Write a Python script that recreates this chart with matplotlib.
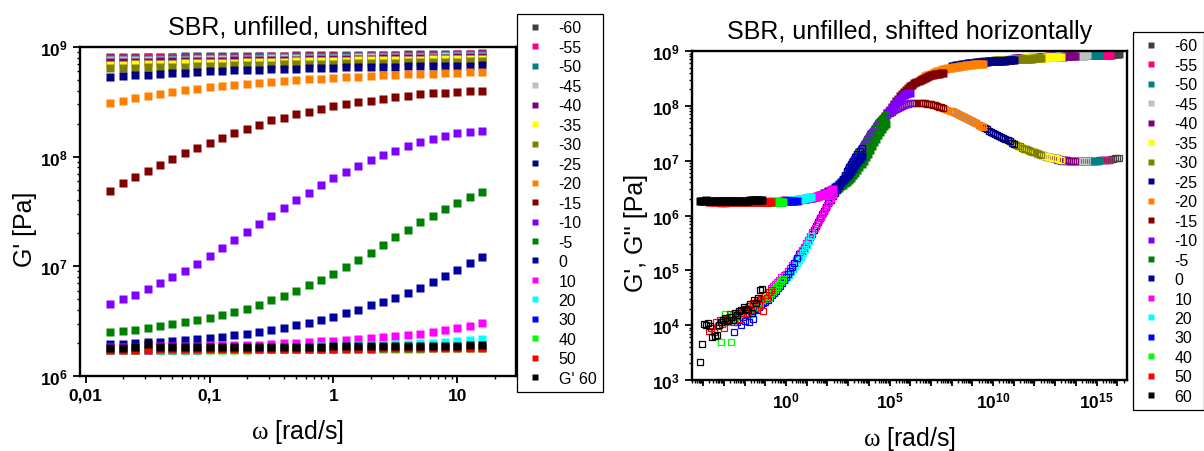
import numpy as np
import matplotlib
matplotlib.use("Agg")
import matplotlib.pyplot as plt
from matplotlib.ticker import FixedLocator, LogLocator, FuncFormatter, NullFormatter

plt.rcParams['font.family'] = ['Liberation Sans', 'DejaVu Sans']
plt.rcParams['mathtext.fontset'] = 'custom'
plt.rcParams['mathtext.rm'] = 'Liberation Serif'
plt.rcParams['mathtext.bf'] = 'Liberation Sans:bold'
plt.rcParams['mathtext.it'] = 'Liberation Sans:italic'
plt.rcParams['mathtext.sf'] = 'Liberation Sans'

# angular frequency of the sweep [rad/s]
omega = [0.0158, 0.02, 0.0251, 0.0316, 0.0398, 0.0501, 0.0631, 0.0794, 0.1, 0.126, 0.158,
         0.2, 0.251, 0.316, 0.398, 0.501, 0.631, 0.794, 1, 1.26, 1.58, 2, 2.51, 3.16,
         3.98, 5.01, 6.31, 7.94, 10, 12.6, 15.8]

temps = ['-60', '-55', '-50', '-45', '-40', '-35', '-30', '-25', '-20', '-15', '-10',
         '-5', '0', '10', '20', '30', '40', '50', '60']
colors = ['#404040', '#ff0080', '#008080', '#c0c0c0', '#800080', '#ffff00', '#808000',
          '#000080', '#ff8000', '#800000', '#8000ff', '#008000', '#0000a0', '#ff00ff',
          '#00ffff', '#0000ff', '#00ff00', '#ff0000', '#000000']
# horizontal shift factors, log10(aT)
log_aT = [14.9, 14.45, 13.93, 13.33, 12.77, 12.06, 11.1, 9.8, 8.3, 6.4, 4.8, 3.65, 2.45,
          1.08, 0.03, -0.69, -1.34, -1.90, -2.35]

# log10 G' [Pa]
gp_m60 = [8.908, 8.909, 8.910, 8.911, 8.912, 8.913, 8.914, 8.915, 8.916, 8.917, 8.918, 8.919, 8.920, 8.921, 8.922, 8.923, 8.924, 8.925, 8.926, 8.927, 8.928, 8.929, 8.930, 8.931, 8.932, 8.934, 8.935, 8.937, 8.938, 8.940, 8.942]
gp_m55 = [8.902, 8.903, 8.904, 8.905, 8.906, 8.907, 8.908, 8.909, 8.910, 8.911, 8.912, 8.913, 8.914, 8.915, 8.916, 8.917, 8.918, 8.919, 8.920, 8.921, 8.922, 8.923, 8.924, 8.925, 8.926, 8.928, 8.929, 8.931, 8.932, 8.934, 8.936]
gp_m50 = [8.890, 8.891, 8.892, 8.894, 8.895, 8.896, 8.897, 8.899, 8.900, 8.901, 8.902, 8.904, 8.905, 8.906, 8.907, 8.909, 8.910, 8.911, 8.912, 8.914, 8.915, 8.916, 8.917, 8.919, 8.920, 8.921, 8.922, 8.924, 8.925, 8.927, 8.928]
gp_m45 = [8.878, 8.880, 8.881, 8.882, 8.884, 8.885, 8.886, 8.888, 8.889, 8.890, 8.892, 8.893, 8.894, 8.896, 8.897, 8.898, 8.900, 8.901, 8.902, 8.904, 8.905, 8.906, 8.908, 8.909, 8.910, 8.912, 8.913, 8.914, 8.916, 8.918, 8.920]
gp_m40 = [8.862, 8.864, 8.866, 8.867, 8.869, 8.870, 8.872, 8.873, 8.875, 8.876, 8.878, 8.879, 8.881, 8.882, 8.884, 8.885, 8.887, 8.888, 8.890, 8.891, 8.893, 8.894, 8.896, 8.897, 8.899, 8.900, 8.902, 8.904, 8.906, 8.908, 8.910]
gp_m35 = [8.838, 8.840, 8.842, 8.844, 8.846, 8.848, 8.850, 8.852, 8.854, 8.856, 8.858, 8.860, 8.862, 8.864, 8.866, 8.868, 8.870, 8.872, 8.874, 8.876, 8.878, 8.880, 8.881, 8.883, 8.884, 8.886, 8.887, 8.889, 8.891, 8.893, 8.895]
gp_m30 = [8.805, 8.808, 8.811, 8.814, 8.817, 8.820, 8.822, 8.825, 8.827, 8.830, 8.832, 8.835, 8.837, 8.839, 8.841, 8.843, 8.845, 8.847, 8.849, 8.851, 8.853, 8.855, 8.856, 8.858, 8.859, 8.861, 8.862, 8.864, 8.866, 8.868, 8.870]
gp_m25 = [8.726, 8.735, 8.741, 8.747, 8.753, 8.759, 8.765, 8.771, 8.777, 8.783, 8.786, 8.790, 8.793, 8.796, 8.799, 8.802, 8.805, 8.808, 8.811, 8.814, 8.817, 8.818, 8.820, 8.822, 8.823, 8.825, 8.826, 8.828, 8.829, 8.831, 8.832]
gp_m20 = [8.488, 8.512, 8.537, 8.555, 8.570, 8.589, 8.604, 8.619, 8.631, 8.644, 8.656, 8.665, 8.674, 8.683, 8.692, 8.698, 8.704, 8.711, 8.717, 8.723, 8.729, 8.735, 8.741, 8.744, 8.750, 8.753, 8.756, 8.762, 8.765, 8.768, 8.771]
gp_m15 = [7.690, 7.757, 7.812, 7.873, 7.927, 7.979, 8.034, 8.080, 8.126, 8.174, 8.214, 8.254, 8.290, 8.330, 8.357, 8.385, 8.409, 8.433, 8.458, 8.479, 8.494, 8.512, 8.528, 8.543, 8.555, 8.567, 8.576, 8.583, 8.589, 8.595, 8.598]
gp_m10 = [6.660, 6.700, 6.742, 6.794, 6.849, 6.904, 6.959, 7.019, 7.096, 7.169, 7.242, 7.315, 7.385, 7.461, 7.528, 7.601, 7.672, 7.742, 7.803, 7.864, 7.912, 7.967, 8.016, 8.055, 8.098, 8.132, 8.162, 8.193, 8.214, 8.229, 8.235]
gp_m5 = [6.401, 6.410, 6.422, 6.434, 6.453, 6.471, 6.489, 6.508, 6.529, 6.556, 6.584, 6.614, 6.651, 6.690, 6.730, 6.776, 6.828, 6.876, 6.934, 6.995, 7.059, 7.126, 7.196, 7.266, 7.333, 7.400, 7.461, 7.522, 7.580, 7.632, 7.675]
gp_0 = [6.288, 6.294, 6.300, 6.307, 6.313, 6.319, 6.328, 6.337, 6.343, 6.355, 6.370, 6.380, 6.404, 6.419, 6.441, 6.462, 6.486, 6.511, 6.541, 6.575, 6.602, 6.645, 6.675, 6.715, 6.760, 6.806, 6.861, 6.913, 6.968, 7.026, 7.084]
gp_10 = [6.262, 6.265, 6.267, 6.269, 6.271, 6.273, 6.275, 6.277, 6.279, 6.281, 6.283, 6.285, 6.287, 6.288, 6.297, 6.303, 6.309, 6.315, 6.322, 6.327, 6.334, 6.346, 6.352, 6.364, 6.373, 6.386, 6.400, 6.416, 6.434, 6.459, 6.486]
gp_20 = [6.245, 6.246, 6.247, 6.248, 6.249, 6.250, 6.251, 6.252, 6.253, 6.254, 6.255, 6.257, 6.259, 6.261, 6.263, 6.265, 6.267, 6.270, 6.273, 6.276, 6.279, 6.282, 6.286, 6.290, 6.294, 6.299, 6.305, 6.312, 6.320, 6.329, 6.340]
gp_30 = [6.238, 6.238, 6.239, 6.239, 6.240, 6.240, 6.241, 6.241, 6.242, 6.242, 6.243, 6.243, 6.244, 6.245, 6.246, 6.247, 6.248, 6.249, 6.250, 6.251, 6.252, 6.253, 6.254, 6.255, 6.256, 6.258, 6.260, 6.262, 6.264, 6.266, 6.268]
gp_40 = [6.236, 6.237, 6.237, 6.245, 6.238, 6.238, 6.239, 6.239, 6.240, 6.240, 6.241, 6.241, 6.242, 6.242, 6.243, 6.243, 6.244, 6.244, 6.245, 6.245, 6.246, 6.246, 6.247, 6.248, 6.249, 6.250, 6.251, 6.252, 6.253, 6.254, 6.255]
gp_50 = [6.240, 6.240, 6.241, 6.241, 6.242, 6.242, 6.243, 6.243, 6.244, 6.244, 6.245, 6.245, 6.246, 6.246, 6.247, 6.247, 6.248, 6.248, 6.249, 6.249, 6.250, 6.250, 6.251, 6.251, 6.252, 6.252, 6.253, 6.253, 6.254, 6.254, 6.255]
gp_60 = [6.258, 6.259, 6.260, 6.290, 6.261, 6.262, 6.262, 6.263, 6.263, 6.264, 6.264, 6.265, 6.265, 6.266, 6.266, 6.267, 6.268, 6.268, 6.269, 6.270, 6.271, 6.272, 6.272, 6.273, 6.274, 6.275, 6.276, 6.277, 6.278, 6.280, 6.282]

# log10 G'' [Pa]
gpp_m60 = [7.01, 7.01, 7.00, 7.00, 6.99, 6.99, 6.99, 6.99, 6.99, 6.99, 6.99, 6.99, 6.99, 6.99, 6.99, 7.00, 7.00, 7.00, 7.00, 7.00, 7.01, 7.01, 7.01, 7.02, 7.02, 7.02, 7.03, 7.03, 7.04, 7.04, 7.05]
gpp_m55 = [7.07, 7.06, 7.05, 7.04, 7.04, 7.03, 7.02, 7.02, 7.01, 7.01, 7.00, 7.00, 6.99, 6.99, 6.99, 6.99, 6.99, 6.99, 6.99, 6.99, 6.99, 7.00, 7.00, 7.00, 7.00, 7.01, 7.01, 7.01, 7.02, 7.02, 7.02]
gpp_m50 = [7.13, 7.12, 7.11, 7.10, 7.08, 7.07, 7.06, 7.05, 7.04, 7.04, 7.03, 7.02, 7.02, 7.01, 7.01, 7.00, 7.00, 6.99, 6.99, 6.99, 6.99, 6.99, 6.99, 6.99, 6.99, 6.99, 7.00, 7.00, 7.00, 7.00, 7.00]
gpp_m45 = [7.22, 7.20, 7.19, 7.17, 7.16, 7.15, 7.13, 7.12, 7.11, 7.10, 7.08, 7.07, 7.06, 7.05, 7.04, 7.04, 7.03, 7.02, 7.02, 7.01, 7.01, 7.00, 7.00, 6.99, 6.99, 6.99, 6.99, 6.99, 6.99, 6.99, 6.99]
gpp_m40 = [7.32, 7.30, 7.28, 7.26, 7.25, 7.23, 7.21, 7.20, 7.18, 7.17, 7.15, 7.14, 7.13, 7.12, 7.10, 7.09, 7.08, 7.07, 7.06, 7.05, 7.04, 7.04, 7.03, 7.02, 7.02, 7.01, 7.01, 7.00, 7.00, 6.99, 6.99]
gpp_m35 = [7.45, 7.44, 7.42, 7.40, 7.38, 7.36, 7.34, 7.32, 7.30, 7.28, 7.26, 7.25, 7.23, 7.21, 7.20, 7.18, 7.17, 7.16, 7.14, 7.13, 7.12, 7.11, 7.09, 7.08, 7.07, 7.06, 7.05, 7.04, 7.04, 7.03, 7.02]
gpp_m30 = [7.65, 7.63, 7.61, 7.59, 7.57, 7.54, 7.52, 7.50, 7.48, 7.46, 7.45, 7.43, 7.41, 7.39, 7.37, 7.35, 7.33, 7.31, 7.29, 7.27, 7.26, 7.24, 7.22, 7.21, 7.19, 7.18, 7.16, 7.15, 7.14, 7.12, 7.11]
gpp_m25 = [7.90, 7.88, 7.87, 7.85, 7.84, 7.82, 7.80, 7.78, 7.76, 7.74, 7.72, 7.70, 7.68, 7.65, 7.63, 7.61, 7.59, 7.57, 7.54, 7.52, 7.50, 7.48, 7.46, 7.45, 7.43, 7.41, 7.39, 7.37, 7.35, 7.33, 7.31]
gpp_m20 = [8.06, 8.06, 8.05, 8.04, 8.04, 8.03, 8.02, 8.01, 8.00, 7.98, 7.97, 7.96, 7.94, 7.93, 7.91, 7.90, 7.88, 7.87, 7.85, 7.84, 7.82, 7.80, 7.78, 7.76, 7.74, 7.72, 7.70, 7.68, 7.65, 7.63, 7.61]
gpp_m15 = [7.74, 7.77, 7.81, 7.84, 7.87, 7.89, 7.92, 7.94, 7.96, 7.98, 8.00, 8.01, 8.03, 8.04, 8.05, 8.05, 8.06, 8.06, 8.06, 8.06, 8.06, 8.05, 8.04, 8.04, 8.03, 8.02, 8.01, 8.00, 7.98, 7.97, 7.96]
gpp_m10 = [6.85, 6.91, 6.97, 7.03, 7.09, 7.15, 7.21, 7.27, 7.33, 7.39, 7.45, 7.50, 7.55, 7.60, 7.65, 7.70, 7.74, 7.77, 7.81, 7.84, 7.87, 7.89, 7.92, 7.94, 7.96, 7.98, 8.00, 8.01, 8.03, 8.04, 8.05]
gpp_m5 = [6.09, 6.16, 6.23, 6.29, 6.35, 6.41, 6.47, 6.53, 6.60, 6.67, 6.74, 6.81, 6.88, 6.94, 7.00, 7.06, 7.12, 7.18, 7.24, 7.30, 7.36, 7.42, 7.48, 7.53, 7.58, 7.63, 7.68, 7.72, 7.76, 7.80, 7.83]
gpp_0 = [5.29, 5.35, 5.41, 5.47, 5.53, 5.60, 5.67, 5.74, 5.81, 5.88, 5.95, 6.02, 6.09, 6.16, 6.23, 6.29, 6.35, 6.41, 6.47, 6.53, 6.60, 6.67, 6.74, 6.81, 6.88, 6.94, 7.00, 7.06, 7.12, 7.18, 7.24]
gpp_10 = [4.68, 4.72, 4.75, 4.79, 4.83, 4.87, 4.91, 4.94, 4.99, 5.04, 5.09, 5.14, 5.19, 5.25, 5.31, 5.37, 5.43, 5.49, 5.56, 5.63, 5.70, 5.77, 5.84, 5.91, 5.98, 6.05, 6.12, 6.19, 6.25, 6.31, 6.37]
gpp_20 = [4.16, 4.20, 4.25, 4.30, 4.33, 4.36, 4.40, 4.43, 4.46, 4.50, 4.54, 4.58, 4.62, 4.66, 4.70, 4.74, 4.78, 4.82, 4.87, 4.92, 4.97, 5.02, 5.07, 5.13, 5.19, 5.25, 5.32, 5.39, 5.46, 5.54, 5.62]
gpp_30 = [3.87, 4.05, 4.10, 4.00, 4.15, 4.08, 4.20, 4.05, 4.25, 4.12, 4.30, 4.28, 4.33, 4.36, 4.40, 4.42, 4.46, 4.50, 4.55, 4.58, 4.62, 4.68, 4.72, 4.76, 4.82, 4.87, 4.93, 4.99, 5.06, 5.13, 5.22]
gpp_40 = [3.70, 4.10, 4.20, 4.05, 4.15, 3.70, 4.18, 4.12, 4.22, 4.20, 4.25, 4.28, 4.22, 4.32, 4.30, 4.35, 4.38, 4.33, 4.42, 4.40, 4.45, 4.48, 4.52, 4.50, 4.58, 4.62, 4.66, 4.70, 4.75, 4.80, 4.85]
gpp_50 = [3.90, 3.95, 3.88, 4.05, 3.98, 4.10, 4.02, 3.95, 4.12, 4.08, 4.20, 4.15, 4.05, 4.18, 4.22, 4.12, 4.25, 4.30, 4.22, 4.35, 4.28, 4.40, 4.32, 4.45, 4.38, 4.48, 4.25, 4.55, 4.50, 4.60, 4.65]
gpp_60 = [3.32, 3.66, 4.02, 4.00, 4.04, 3.98, 3.78, 3.80, 3.82, 4.00, 4.05, 4.10, 4.13, 4.08, 4.09, 4.15, 4.10, 4.22, 4.18, 4.25, 4.28, 4.34, 4.30, 4.28, 4.38, 4.22, 4.45, 4.40, 4.50, 4.64, 4.66]

gp_all = [gp_m60, gp_m55, gp_m50, gp_m45, gp_m40, gp_m35, gp_m30, gp_m25, gp_m20, gp_m15,
          gp_m10, gp_m5, gp_0, gp_10, gp_20, gp_30, gp_40, gp_50, gp_60]
gpp_all = [gpp_m60, gpp_m55, gpp_m50, gpp_m45, gpp_m40, gpp_m35, gpp_m30, gpp_m25, gpp_m20,
           gpp_m15, gpp_m10, gpp_m5, gpp_0, gpp_10, gpp_20, gpp_30, gpp_40, gpp_50, gpp_60]

W, H = 1204, 452
fig = plt.figure(figsize=(W / 100, H / 100), dpi=100)
ax1 = fig.add_axes([80 / W, 1 - 377 / H, 436 / W, 329 / H])
ax2 = fig.add_axes([692 / W, 1 - 381 / H, 435 / W, 329 / H])

w = np.array(omega)

# left: unshifted G'
handles1 = []
for lab, col, gp in zip(temps, colors, gp_all):
    h, = ax1.plot(w, 10 ** np.array(gp), 's', color=col, ms=5.4, mec='none',
                  label=("G' 60" if lab == '60' else lab))
    handles1.append(h)

# right: shifted G' (filled) and G'' (open)
handles2 = []
for lab, col, sh, gp, gpp in zip(temps, colors, log_aT, gp_all, gpp_all):
    x = w * 10 ** sh
    h, = ax2.plot(x, 10 ** np.array(gp), 's', color=col, ms=5.4, mec='none', label=lab)
    ax2.plot(x, 10 ** np.array(gpp), 's', mfc='none', mec=col, ms=4.4, mew=0.9)
    handles2.append(h)


def pow_label(v, pos):
    return r'$\mathbf{10^{%d}}$' % int(round(np.log10(v)))


def pow5_label(v, pos):
    e = int(round(np.log10(v)))
    return r'$\mathbf{10^{%d}}$' % e if e % 5 == 0 else ''


for ax in (ax1, ax2):
    ax.set_xscale('log')
    ax.set_yscale('log')
    for s in ax.spines.values():
        s.set_linewidth(1.7)
    ax.tick_params(which='major', direction='out', length=5, width=1.3, labelsize=12.5)
    ax.tick_params(which='minor', direction='out', length=2.5, width=1.0)

ax1.set_xlim(10 ** -2.045, 10 ** 1.473)
ax1.set_ylim(1e6, 1e9)
ax1.xaxis.set_major_locator(FixedLocator([0.01, 0.1, 1, 10]))
ax1.xaxis.set_minor_locator(LogLocator(base=10, subs=np.arange(2, 10) * 1.0, numticks=50))
ax1.xaxis.set_minor_formatter(NullFormatter())
ax1.set_xticklabels(['0,01', '0,1', '1', '10'], fontweight='bold')
ax1.yaxis.set_major_locator(FixedLocator([1e6, 1e7, 1e8, 1e9]))
ax1.yaxis.set_major_formatter(FuncFormatter(pow_label))
ax1.yaxis.set_minor_locator(LogLocator(base=10, subs=np.arange(2, 10) * 1.0, numticks=50))
ax1.yaxis.set_minor_formatter(NullFormatter())

ax2.set_xlim(10 ** -4.54, 10 ** 16.47)
ax2.set_ylim(1e3, 1e9)
ax2.xaxis.set_major_locator(FixedLocator(10.0 ** np.arange(-4, 17)))
ax2.xaxis.set_major_formatter(FuncFormatter(pow5_label))
ax2.xaxis.set_minor_locator(LogLocator(base=10, subs=np.arange(2, 10) * 1.0, numticks=100))
ax2.xaxis.set_minor_formatter(NullFormatter())
ax2.tick_params(axis='x', which='major', length=4)
ax2.tick_params(axis='x', which='minor', length=2)
ax2.yaxis.set_major_locator(FixedLocator(10.0 ** np.arange(3, 10)))
ax2.yaxis.set_major_formatter(FuncFormatter(pow_label))
ax2.yaxis.set_minor_locator(LogLocator(base=10, subs=np.arange(2, 10) * 1.0, numticks=50))
ax2.yaxis.set_minor_formatter(NullFormatter())

ax1.set_title('SBR, unfilled, unshifted', fontsize=18, pad=10)
ax2.set_title('SBR, unfilled, shifted horizontally', fontsize=18, pad=9)
ax1.set_ylabel("G' [Pa]", fontsize=18)
ax2.set_ylabel("G', G'' [Pa]", fontsize=18)
ax1.set_xlabel(r'$\mathrm{\omega}$ [rad/s]', fontsize=18)
ax2.set_xlabel(r'$\mathrm{\omega}$ [rad/s]', fontsize=18)
ax1.yaxis.set_label_coords(-0.099, 0.45)
ax2.yaxis.set_label_coords(-0.101, 0.45)
ax1.xaxis.set_label_coords(0.5, -0.125)
ax2.xaxis.set_label_coords(0.5, -0.135)

leg_kw = dict(loc='upper left', bbox_transform=fig.transFigure, fontsize=11.5,
              frameon=True, fancybox=False, framealpha=1, edgecolor='black',
              labelspacing=0.28, handlelength=1.5, handletextpad=0.7,
              borderpad=0.4, borderaxespad=0, markerscale=0.8)
leg1 = fig.legend(handles=handles1, bbox_to_anchor=(517 / W, 1 - 15 / H), **leg_kw)
leg2 = fig.legend(handles=handles2, bbox_to_anchor=(1133 / W, 1 - 33 / H), **leg_kw)
for lg in (leg1, leg2):
    lg.get_frame().set_linewidth(0.9)

fig.savefig('out.png', dpi=100)
